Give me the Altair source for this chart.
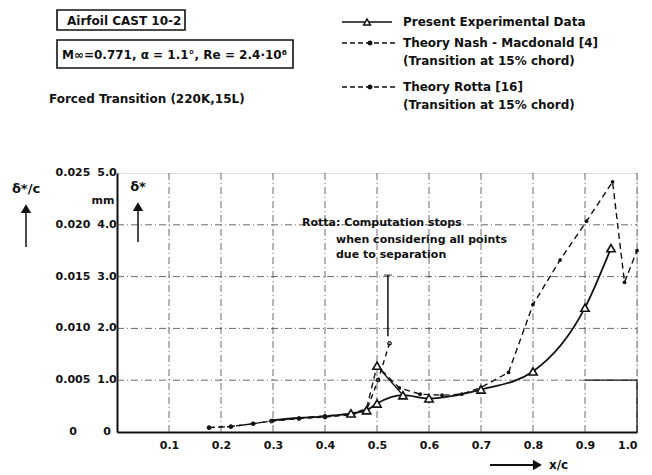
import altair as alt
import pandas as pd

# ---------------- data ----------------
exp_x = [0.30, 0.35, 0.40, 0.45, 0.48, 0.50, 0.55, 0.60, 0.70, 0.80, 0.90, 0.95]
exp_y = [0.23, 0.27, 0.30, 0.36, 0.42, 0.55, 0.71, 0.65, 0.82, 1.17, 2.40, 3.55]

peak_x = [0.50, 0.55]
peak_y = [1.28, 0.71]

nash_x = [0.177, 0.219, 0.262, 0.30, 0.35, 0.40, 0.45, 0.48, 0.50, 0.543, 0.583,
          0.625, 0.663, 0.70, 0.753, 0.80, 0.852, 0.903, 0.953, 0.976, 1.0]
nash_y = [0.085, 0.105, 0.16, 0.22, 0.27, 0.31, 0.35, 0.45, 1.28, 0.85, 0.73,
          0.71, 0.73, 0.86, 1.15, 2.46, 3.32, 4.07, 4.83, 2.89, 3.50]

rotta_x = [0.177, 0.219, 0.262, 0.297, 0.35, 0.40, 0.45, 0.48, 0.502, 0.524]
rotta_y = [0.085, 0.105, 0.16, 0.21, 0.26, 0.29, 0.33, 0.42, 1.00, 1.71]

grid_x = [0.1, 0.2, 0.3, 0.4, 0.5, 0.6, 0.7, 0.8, 0.9, 1.0]
grid_y = [1, 2, 3, 4]
ytick = [0, 1, 2, 3, 4, 5]
ylab_ratio = ["0", "0.005", "0.010", "0.015", "0.020", "0.025"]
ylab_mm = ["0", "1.0", "2.0", "3.0", "4.0", "5.0"]
xtick = [0.1, 0.2, 0.3, 0.4, 0.5, 0.6, 0.7, 0.8, 0.9, 1.0]

stop_x = [0.521]
stop_y1 = [1.85]
stop_y2 = [3.03]

FONT = "DejaVu Sans"
BLK = "#111111"

xs = alt.Scale(domain=[0, 1], nice=False, zero=False)
ys = alt.Scale(domain=[0, 5], nice=False, zero=False)

exp_df = pd.DataFrame({"x": exp_x, "y": exp_y})
peak_df = pd.DataFrame({"x": peak_x, "y": peak_y})
nash_df = pd.DataFrame({"x": nash_x, "y": nash_y})
rotta_df = pd.DataFrame({"x": rotta_x, "y": rotta_y})
one = pd.DataFrame({"_": [0]})

X = alt.X("x:Q", scale=xs,
          axis=alt.Axis(values=xtick, labelExpr="format(datum.value, '.1f')",
                        title=None, grid=False, ticks=False, domainColor=BLK,
                        domainWidth=2, labelPadding=7, labelFontSize=11,
                        labelFont=FONT, labelColor=BLK, labelFontWeight="bold"))
Y = alt.Y("y:Q", scale=ys,
          axis=alt.Axis(labels=False, ticks=False, grid=False, title=None,
                        domainColor=BLK, domainWidth=2))

gdash = [7, 3, 1, 3]
grid_v = alt.Chart(pd.DataFrame({"x": grid_x})).mark_rule(
    color="#444", strokeWidth=0.8, strokeDash=gdash).encode(
    x=alt.X("x:Q", scale=xs), y=alt.datum(0), y2=alt.datum(5))
grid_h = alt.Chart(pd.DataFrame({"y": grid_y})).mark_rule(
    color="#444", strokeWidth=0.8, strokeDash=gdash).encode(
    y=alt.Y("y:Q", scale=ys), x=alt.datum(0), x2=alt.datum(1))

box_v = alt.Chart(one).mark_rule(color=BLK, strokeWidth=1.2).encode(
    x=alt.datum(1.0), y=alt.datum(0), y2=alt.datum(1.0))
box_h = alt.Chart(one).mark_rule(color=BLK, strokeWidth=1.2).encode(
    y=alt.datum(1.0), x=alt.datum(0.9), x2=alt.datum(1.0))

exp_line = alt.Chart(exp_df).mark_line(color=BLK, strokeWidth=1.8,
                                       interpolate="monotone").encode(x=X, y=Y)
exp_pts = alt.Chart(exp_df).transform_filter("datum.x >= 0.44").mark_point(
    shape="triangle-up", filled=True, fill="white", stroke=BLK,
    strokeWidth=1.6, size=70, opacity=1).encode(x=X, y=Y)
peak_line = alt.Chart(peak_df).mark_line(color=BLK, strokeWidth=1.3).encode(x=X, y=Y)
peak_pts = alt.Chart(peak_df).transform_filter("datum.y > 1").mark_point(
    shape="triangle-up", filled=True, fill="white", stroke=BLK,
    strokeWidth=1.6, size=70, opacity=1).encode(x=X, y=Y)

nash_line = alt.Chart(nash_df).mark_line(color=BLK, strokeWidth=1.4,
                                         strokeDash=[6, 4]).encode(x=X, y=Y)
nash_pts = alt.Chart(nash_df).mark_circle(color=BLK, size=14, opacity=1).encode(x=X, y=Y)

rotta_line = alt.Chart(rotta_df).mark_line(color=BLK, strokeWidth=1.4,
                                           strokeDash=[5, 4]).encode(x=X, y=Y)
rotta_pts = alt.Chart(rotta_df).mark_point(color=BLK, size=12, filled=False,
                                           strokeWidth=1.2, opacity=1).encode(x=X, y=Y)

stop_df = pd.DataFrame({"x": stop_x, "y": stop_y1, "y2": stop_y2})
stop_rule = alt.Chart(stop_df).mark_rule(color=BLK, strokeWidth=1.5).encode(
    x=alt.X("x:Q", scale=xs), y=alt.Y("y:Q", scale=ys), y2="y2:Q")
stop_tick = alt.Chart(stop_df).mark_tick(color=BLK, thickness=1.2, size=8,
                                         orient="horizontal").encode(
    x=alt.X("x:Q", scale=xs), y=alt.Y("y2:Q", scale=ys))

ylab_df = pd.DataFrame({"y": ytick, "r": ylab_ratio, "m": ylab_mm})
ylab_r = alt.Chart(ylab_df).mark_text(font=FONT, fontSize=11, fontWeight="bold",
                                      color=BLK, align="center").encode(
    y=alt.Y("y:Q", scale=ys), x=alt.value(-44), text="r:N")
ylab_m = alt.Chart(ylab_df).mark_text(font=FONT, fontSize=11, fontWeight="bold",
                                      color=BLK, align="center").encode(
    y=alt.Y("y:Q", scale=ys), x=alt.value(-10), text="m:N")


def txt(s, x, y, size=11, align="left", weight="bold"):
    return alt.Chart(one).mark_text(text=s, font=FONT, fontSize=size,
                                    fontWeight=weight, color=BLK, align=align,
                                    baseline="middle").encode(
        x=alt.value(x), y=alt.value(y))


def hrule(x1, x2, y, dash=None, w=1.4):
    kw = {"color": BLK, "strokeWidth": w}
    if dash:
        kw["strokeDash"] = dash
    return alt.Chart(one).mark_rule(**kw).encode(
        x=alt.value(x1), x2=alt.value(x2), y=alt.value(y))


def vrule(x, y1, y2, w=1.4):
    return alt.Chart(one).mark_rule(color=BLK, strokeWidth=w).encode(
        x=alt.value(x), y=alt.value(y1), y2=alt.value(y2))


def pt(x, y, shape, size, filled=True):
    return alt.Chart(one).mark_point(shape=shape, filled=filled,
                                     fill=BLK if filled else "white",
                                     stroke=BLK, strokeWidth=1.5, size=size,
                                     opacity=1).encode(
        x=alt.value(x), y=alt.value(y))


def rect(x1, x2, y1, y2):
    return alt.Chart(one).mark_rect(fill="white", stroke=BLK, strokeWidth=1.6).encode(
        x=alt.value(x1), x2=alt.value(x2), y=alt.value(y1), y2=alt.value(y2))


deco = [
    # header boxes
    rect(-60, 68, -163, -143),
    txt("Airfoil CAST 10-2", -50, -152, 12),
    rect(-60, 176, -133, -105),
    txt("M\u221e=0.771, \u03b1 = 1.1\u00b0, Re = 2.4\u00b710\u2076", -55, -118, 12),
    txt("Forced Transition (220K,15L)", -68, -74, 12),
    # legend
    hrule(225, 275, -151, w=1.6),
    pt(250, -151, "triangle-up", 45, filled=False),
    txt("Present Experimental Data", 286, -151, 12),
    hrule(225, 281, -130, dash=[5, 3]),
    pt(253, -130, "circle", 12),
    txt("Theory Nash - Macdonald [4]", 286, -130, 12),
    txt("(Transition at 15% chord)", 286, -112, 12),
    hrule(225, 281, -86, dash=[5, 3]),
    pt(253, -86, "circle", 12),
    txt("Theory Rotta [16]", 286, -86, 12),
    txt("(Transition at 15% chord)", 286, -68, 12),
    # axis titles
    txt("\u03b4*/c", -91, 16, 13, align="center"),
    vrule(-91, 36, 74, w=1.5),
    pt(-91, 36, "triangle-up", 60),
    txt("\u03b4*", 21, 14, 13, align="center"),
    vrule(21, 34, 69, w=1.5),
    pt(21, 34, "triangle-up", 60),
    txt("mm", -14, 28, 11, align="center"),
    hrule(373, 418, 292, w=2),
    pt(420, 292, "triangle-right", 60),
    txt("x/c", 432, 292, 12),
    # annotation
    txt("Rotta: Computation stops", 185, 50, 11),
    txt("when considering all points", 219, 67, 11),
    txt("due to separation", 219, 82, 11),
]

chart = alt.layer(
    grid_v, grid_h, box_v, box_h,
    nash_line, nash_pts, rotta_line, rotta_pts,
    exp_line, peak_line, exp_pts, peak_pts,
    stop_rule, stop_tick, ylab_r, ylab_m,
    *deco,
).properties(
    width=520, height=259,
    padding={"left": 109, "top": 165, "right": 7, "bottom": 43},
    autosize=alt.AutoSizeParams(type="none"),
).configure_view(stroke=None).configure(background="white")

chart.save("out.html", embed_options={"renderer": "svg", "actions": False})
